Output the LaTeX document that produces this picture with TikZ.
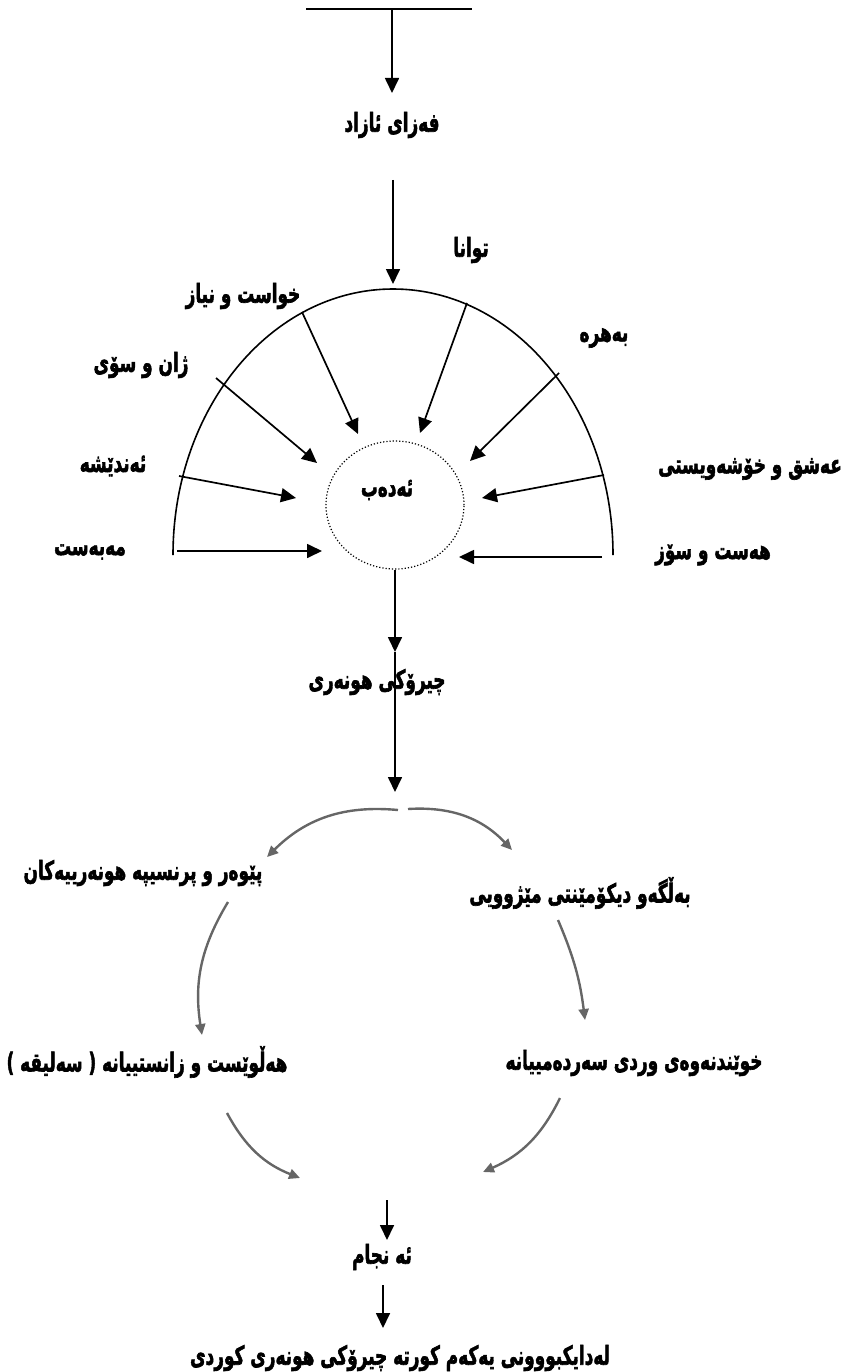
\documentclass[tikz,border=0pt]{standalone}
\usepackage{fontspec}
\newfontfamily\kurdfont[Script=Arabic, FakeBold=2.5]{DejaVu Sans Bold}
\TeXXeTstate=1
\usetikzlibrary{positioning, shapes.geometric, arrows.meta}
\newcommand{\kt}[1]{\beginR #1\endR}

\begin{document}
\begin{tikzpicture}[
    x=1pt, y=-1pt, on grid,
    word/.style={font=\kurdfont\fontsize{26}{29}\selectfont, inner sep=0pt, xscale=0.65},
    flow/.style={line width=1.7pt, -{Triangle[length=15pt, width=14pt]}},
    soft/.style={draw=black!60, line width=2.4pt, -{Triangle[length=11pt, width=10pt]}},
    ring/.style={ellipse, draw, dash pattern=on 1.2pt off 2pt, line width=1.2pt, minimum width=138pt, minimum height=128pt}
]
\useasboundingbox (0,0) rectangle (843,1372);

    % Centre
    \node[ring] (Adab) at (395,505) {};
    \node[word] (AdabText) [above left=15pt and 8pt of Adab] {\kt{ئەدەب}};

    % Labels round the arc
    \node[word] (Space)  [above left=380pt and 3pt of Adab]   {\kt{فەزای ئازاد}};
    \node[word] (Tawana) [above right=255pt and 76pt of Adab]  {\kt{توانا}};
    \node[word] (Xwast)  [above left=209pt and 152pt of Adab]  {\kt{خواست و نیاز}};
    \node[word] (Behre)  [above right=167pt and 209pt of Adab] {\kt{بەهرە}};
    \node[word] (Zhan)   [above left=140pt and 254pt of Adab]  {\kt{ژان و سۆی}};
    \node[word] (Endesh) [above left=39pt and 282pt of Adab]   {\kt{ئەندێشە}};
    \node[word] (Eshq)   [above right=36pt and 355pt of Adab]  {\kt{عەشق و خۆشەویستی}};
    \node[word] (Mebest) [below left=47pt and 305pt of Adab]   {\kt{مەبەست}};
    \node[word] (Hest)   [below right=50pt and 318pt of Adab]  {\kt{هەست و سۆز}};

    % Lower part
    \node[word] (Story)   [below left=177pt and 18pt of Adab]  {\kt{چیرۆکی هونەری}};
    \node[word] (Pewer)   [below left=368pt and 252pt of Adab] {\kt{پێوەر و پرنسیپە هونەرییەکان}};
    \node[word] (Belge)   [below right=388pt and 185pt of Adab] {\kt{بەڵگەو دیکۆمێنتی مێژوویی}};
    \node[word] (Helwest) [below left=557pt and 248pt of Adab] {\kt{هەڵوێست و زانستییانە ( سەلیقە )}};
    \node[word] (Xwendn)  [below right=558pt and 239pt of Adab] {\kt{خوێندنەوەی وردی سەردەمییانە}};
    \node[word] (Enjam)   [below left=752pt and 13pt of Adab]  {\kt{ئە نجام}};
    \node[word] (Birth)   [below right=853pt and 5pt of Adab]  {\kt{لەدایکبووونی یەکەم کورتە چیرۆکی هونەری کوردی}};

    % Free ends
    \coordinate (BarL) at (306,9);
    \coordinate (BarR) at (472,9);
    \coordinate (BarMid) at (392,9);
    \coordinate (SpaceTip) at (392,93);
    \coordinate (InTop) at (393,180);
    \coordinate (InTip) at (393,284);
    \coordinate (ArcL) at (173,555);
    \coordinate (StoryTip) at (395,652);
    \coordinate (ForkTip) at (395,792);

    % Top
    \draw[line width=1.4pt] (BarL) -- (BarR);
    \draw[flow] (BarMid) -- (SpaceTip);
    \draw[flow] (InTop) -- (InTip);
    \draw[line width=1.6pt] (ArcL) arc[start angle=180, end angle=0, x radius=220pt, y radius=266pt];

    % Spokes
    \draw[flow] (302,312) coordinate (XwastA) -- (358,434) coordinate (XwastB);
    \draw[flow] (467,303) coordinate (TawanaA) -- (420,433) coordinate (TawanaB);
    \draw[flow] (216,378) coordinate (ZhanA) -- (317,463) coordinate (ZhanB);
    \draw[flow] (559,373) coordinate (BehreA) -- (470,461) coordinate (BehreB);
    \draw[flow] (179,476) coordinate (EndeshA) -- (296,498) coordinate (EndeshB);
    \draw[flow] (604,475) coordinate (EshqA) -- (482,498) coordinate (EshqB);
    \draw[flow] (177,551) coordinate (MebestA) -- (322,551) coordinate (MebestB);
    \draw[flow] (602,557) coordinate (HestA) -- (459,557) coordinate (HestB);

    % Down the middle
    \draw[flow] (Adab) -- (StoryTip);
    \draw[flow] (StoryTip) -- (ForkTip);

    % Grey curves
    \coordinate (ForkL) at (398,810);
    \coordinate (ForkR) at (408,809);
    \coordinate (PewerTip) at (267,857);
    \coordinate (BelgeTip) at (512,850);
    \coordinate (PewerOut) at (228,902);
    \coordinate (HelwestTip) at (202,1035);
    \coordinate (BelgeOut) at (558,920);
    \coordinate (XwendnTip) at (585,1020);
    \coordinate (HelwestOut) at (227,1113);
    \coordinate (MeetL) at (300,1178);
    \coordinate (XwendnOut) at (560,1098);
    \coordinate (MeetR) at (483,1172);
    \draw[soft] (ForkL) to[bend right=25] (PewerTip);
    \draw[soft] (ForkR) to[bend left=25] (BelgeTip);
    \draw[soft] (PewerOut) to[bend right=20] (HelwestTip);
    \draw[soft] (BelgeOut) to[bend left=8] (XwendnTip);
    \draw[soft] (HelwestOut) to[bend right=20] (MeetL);
    \draw[soft] (XwendnOut) to[bend left=20] (MeetR);

    % End
    \coordinate (EnjamTop) at (387,1200);
    \coordinate (EnjamTip) at (387,1240);
    \coordinate (BirthTop) at (383,1285);
    \coordinate (BirthTip) at (383,1328);
    \draw[flow] (EnjamTop) -- (EnjamTip);
    \draw[flow] (BirthTop) -- (BirthTip);

\end{tikzpicture}
\end{document}
